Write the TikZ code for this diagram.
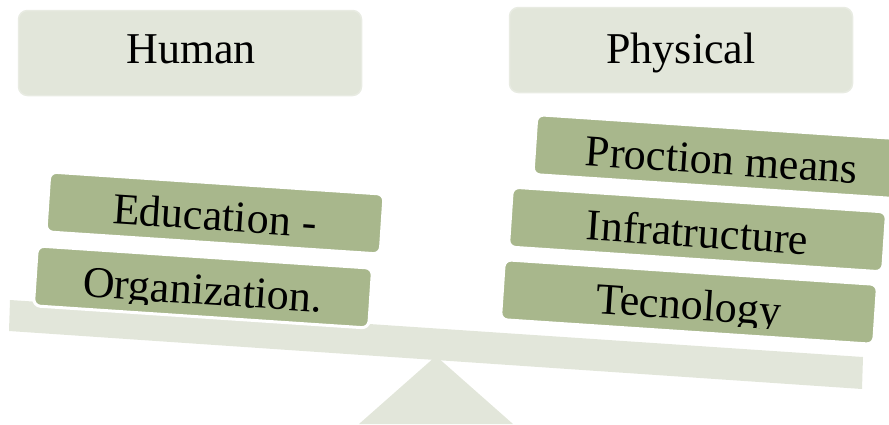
\documentclass[tikz,border=0pt]{standalone}
\usepackage{fontspec}
\setmainfont{Liberation Serif}
\definecolor{paleleaf}{HTML}{E2E6DA}
\definecolor{paleedge}{HTML}{E8EBE2}
\definecolor{sage}{HTML}{A8B78C}
\tikzset{
  headerbox/.style={fill=paleleaf, draw=paleedge, line width=1.5pt,
    rounded corners=9pt, minimum width=343pt, minimum height=85pt, inner sep=0pt},
  weightbox/.style={fill=sage, draw=white, line width=3pt, rounded corners=7pt,
    minimum height=60pt, inner sep=0pt, transform shape},
  boxtext/.style={font=\fontsize{44}{44}\selectfont, inner sep=0pt,
    anchor=base, transform shape},
}
% a tilted weight resting on the beam: name, centre x, centre y, width, text
\newcommand\placeweight[5]{%
  \begin{scope}[shift={(#2,#3)}, rotate=-3.8]
    \node[weightbox, minimum width=#4pt] (#1) at (0,0) {};
    \begin{scope}
      \clip (-#4/2, -30) rectangle (#4/2, 21.5);
      \node[boxtext] (#1-text) at (0,17.5) {#5};
    \end{scope}
  \end{scope}}
\begin{document}
\begin{tikzpicture}[x=1pt, y=-1pt]
  \useasboundingbox (0,0) rectangle (889,424);
  \clip (0,0) rectangle (889,424);

  % column headers
  \node[headerbox] (human) at (190,53) {};
  \node[boxtext] (human-text) at (191,63) {Human};
  \node[headerbox] (physical) at (681,50) {};
  \node[boxtext] (physical-text) at (681,63) {Physical};

  % fulcrum and beam
  \fill[paleleaf] (436,356) -- (513,424) -- (359,424) -- cycle;
  \fill[paleleaf] (10,300) -- (863,357) -- (862,389) -- (9,331) -- cycle;

  % weights on the left pan
  \placeweight{education}{215}{213}{335}{Education -}
  \placeweight{organization}{203}{287}{336}{Organization.}

  % weights on the right pan
  \placeweight{production}{722}{157}{375}{Proction means}
  \placeweight{infrastructure}{697.5}{229.5}{375}{Infratructure}
  \placeweight{technology}{689}{302}{374}{Tecnology}
\end{tikzpicture}
\end{document}
